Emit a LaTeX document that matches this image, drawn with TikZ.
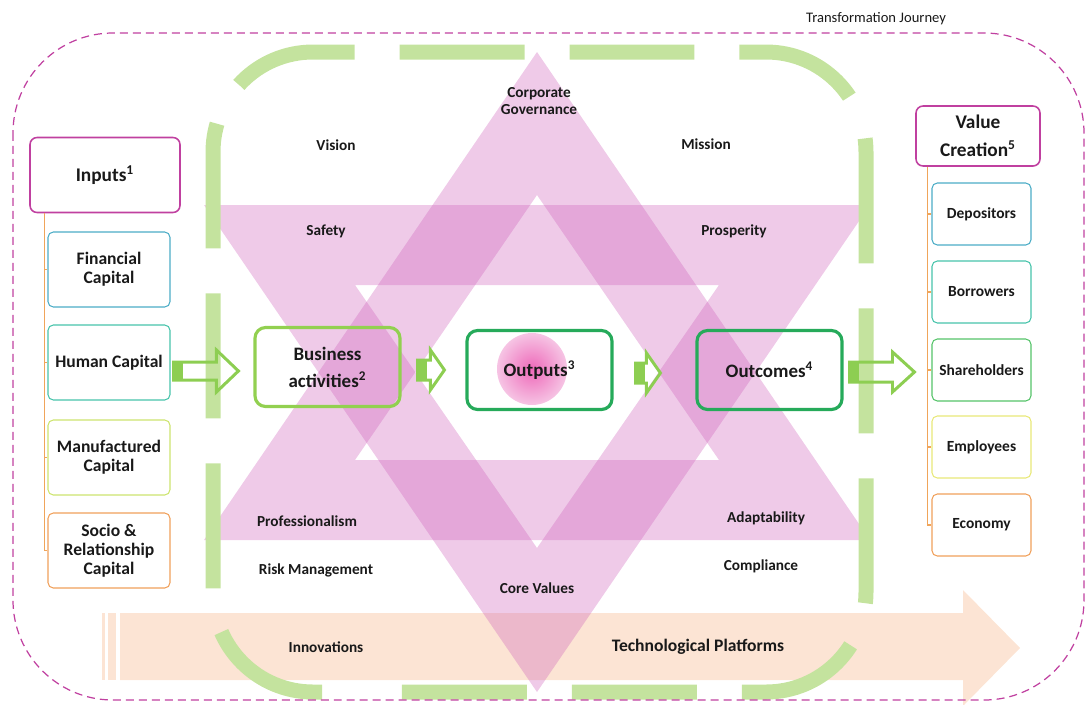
\documentclass[tikz,border=0pt]{standalone}
\usepackage{fontspec}
\setmainfont{Carlito}
\usetikzlibrary{calc}

\definecolor{journeypink}{RGB}{192,64,160}
\definecolor{ringgreen}{RGB}{196,227,158}
\definecolor{arrowgreen}{RGB}{141,206,82}
\definecolor{boxgreen}{RGB}{146,208,80}
\definecolor{darkgreen}{RGB}{38,170,90}
\definecolor{starpink}{RGB}{205,95,185}
\definecolor{platform}{RGB}{252,228,212}
\definecolor{trunkorange}{RGB}{240,165,90}
\definecolor{capblue}{RGB}{75,172,198}
\definecolor{capteal}{RGB}{70,195,170}
\definecolor{capgreen}{RGB}{85,195,105}
\definecolor{capyellow}{RGB}{205,228,110}
\definecolor{capgold}{RGB}{232,232,120}
\definecolor{caporange}{RGB}{240,160,90}
\definecolor{ink}{RGB}{25,25,25}

\tikzset{
  journey/.style={draw=journeypink, line width=0.7pt, dash pattern=on 0.16cm off 0.1cm, rounded corners=2cm},
  ring/.style={draw=ringgreen, line width=0.3cm, rounded corners=2cm, dash pattern=on 2.5cm off 0.9cm, dash phase=2.95cm},
  starband/.style={fill=starpink, fill opacity=0.33, even odd rule},
  barrow/.style={draw=arrowgreen, line width=1.7pt, line join=miter},
  capbox/.style={draw, rounded corners=3pt, line width=0.6pt, minimum width=2.44cm, minimum height=1.5cm, align=center, inner sep=1pt, text=ink, font=\fontsize{10}{10.8}\selectfont\bfseries},
  stakebox/.style={draw, rounded corners=3pt, line width=0.6pt, minimum width=1.98cm, minimum height=1.24cm, align=center, inner sep=1pt, text=ink, font=\fontsize{8.8}{10}\selectfont\bfseries},
  headbox/.style={draw=journeypink, rounded corners=4pt, line width=0.9pt, align=center, inner sep=1pt, text=ink, font=\fontsize{11}{16}\selectfont\bfseries},
  flowbox/.style={rounded corners=6pt, line width=1.8pt, minimum width=2.9cm, minimum height=1.58cm, align=center, inner sep=1pt, text=ink, font=\fontsize{10.8}{15.3}\selectfont\bfseries},
  starlabel/.style={align=center, text=ink, font=\fontsize{8.7}{10.2}\selectfont\bfseries},
  trunk/.style={draw=trunkorange, line width=0.6pt}
}

\def\blockarrow(#1)(#2)[#3:#4:#5]{%
  \fill[arrowgreen] ($(#1)+(0,-#3)$) rectangle ($(#1)+(9,#3)$);
  \draw[barrow] ($(#1)+(0,-#3)$) -- ($(#2)+(-#5,-#3)$) -- ($(#2)+(-#5,-#4)$) -- (#2)
    -- ($(#2)+(-#5,#4)$) -- ($(#2)+(-#5,#3)$) -- ($(#1)+(0,#3)$) -- cycle;}

\begin{document}
\begin{tikzpicture}[x=0.02cm, y=-0.02cm]
			\useasboundingbox (0,0) rectangle (1088,704);
			%%%%% START %%%%%
			
			% technological platform arrow
			\fill[platform] (120,613) -- (963,613) -- (963,590) -- (1020,648) -- (963,706) -- (963,680) -- (120,680) -- cycle;
			\fill[platform] (102,613) rectangle (105,680);
			\fill[platform] (108,613) rectangle (116,680);
			
			% two triangle bands
			\fill[starband] (537,52) -- (870,540) -- (204,540) -- cycle (537,195) -- (719,460) -- (355,460) -- cycle;
			\fill[starband] (204,205) -- (870,205) -- (537,692) -- cycle (355,285) -- (719,285) -- (537,548) -- cycle;
			
			% green frame
			\draw[ring] (547,52) -- (866,52) -- (866,692) -- (378,692);
			\draw[ring] (547,52) -- (213,52) -- (213,692) -- (350,692);
			
			% journey frame
			\draw[journey] (13,33) rectangle (1084,700);
			\node[text=ink, font=\fontsize{8.3}{10}\selectfont] (title) at (876,19) {Transformation Journey};
			
			% inputs
			\node[headbox, minimum width=3cm, minimum height=1.5cm] (inp) at (105,175) {Inputs\textsuperscript{1}};
			\node[capbox, draw=capblue] (fin) at (109,269.5) {Financial\\Capital};
			\node[capbox, draw=capteal] (hum) at (109,362.5) {Human Capital};
			\node[capbox, draw=capyellow] (man) at (109,457.5) {Manufactured\\Capital};
			\node[capbox, draw=caporange] (soc) at (109,550.5) {Socio \&\\Relationship\\Capital};
			\coordinate (ltop) at ($(inp.south west)+(15,0)$);
			\draw[trunk] (ltop) |- (soc.west);
			\draw[trunk] (ltop) |- (fin.west);
			\draw[trunk] (ltop) |- (hum.west);
			\draw[trunk] (ltop) |- (man.west);
			
			% value creation
			\node[headbox, minimum width=2.48cm, minimum height=1.2cm] (val) at (978,136) {Value\\Creation\textsuperscript{5}};
			\node[stakebox, draw=capblue] (dep) at (981.5,214) {Depositors};
			\node[stakebox, draw=capteal] (bor) at (981.5,292) {Borrowers};
			\node[stakebox, draw=capgreen] (sha) at (981.5,370) {Shareholders};
			\node[stakebox, draw=capgold] (emp) at (981.5,447) {Employees};
			\node[stakebox, draw=caporange] (eco) at (981.5,525) {Economy};
			\coordinate (rtop) at ($(val.south west)+(12,0)$);
			\draw[trunk] (rtop) |- (eco.west);
			\draw[trunk] (rtop) |- (dep.west);
			\draw[trunk] (rtop) |- (bor.west);
			\draw[trunk] (rtop) |- (sha.west);
			\draw[trunk] (rtop) |- (emp.west);
			
			% flow
			\shade[inner color={rgb,255:red,238;green,105;blue,185}, outer color={rgb,255:red,246;green,196;blue,228}] (532,369) ellipse (35 and 36);
			\node[flowbox, draw=boxgreen] (biz) at (327.5,367) {Business\\activities\textsuperscript{2}};
			\node[flowbox, draw=darkgreen] (out) at (539.5,370) {Outputs\textsuperscript{3}};
			\node[flowbox, draw=darkgreen] (outc) at (769.5,370) {Outcomes\textsuperscript{4}};
			
			\coordinate (t1) at ($(hum.east)+(3,8.5)$);
			\coordinate (h1) at ($(biz.west)+(-15,4)$);
			\coordinate (t2) at ($(biz.east)+(16,3)$);
			\coordinate (h2) at ($(out.west)+(-21,0)$);
			\coordinate (t3) at ($(out.east)+(22,3)$);
			\coordinate (h3) at ($(outc.west)+(-35,3)$);
			\coordinate (t4) at ($(outc.east)+(6,2)$);
			\coordinate (h4) at ($(sha.west)+(-17,2)$);
			\blockarrow(t1)(h1)[9:21:22]
			\blockarrow(t2)(h2)[10:20:14]
			\blockarrow(t3)(h3)[10:20:14]
			\blockarrow(t4)(h4)[10:20:22]
			
			% values
			\node[starlabel] (gov) at (539,101) {Corporate\\Governance};
			\node[starlabel] (vis) at (336,145) {Vision};
			\node[starlabel] (mis) at (706,144) {Mission};
			\node[starlabel] (saf) at (326,231) {Safety};
			\node[starlabel] (pro) at (734,231) {Prosperity};
			\node[starlabel] (prf) at (307,521) {Professionalism};
			\node[starlabel] (ada) at (766,518) {Adaptability};
			\node[starlabel] (risk) at (316,570) {Risk Management};
			\node[starlabel] (com) at (761,566) {Compliance};
			\node[starlabel] (core) at (537,588) {Core Values};
			\node[starlabel] (inn) at (326,647) {Innovations};
			\node[starlabel, font=\fontsize{10}{12}\selectfont\bfseries] (tech) at (698,647) {Technological Platforms};
			
			%%%%% END %%%%%
\end{tikzpicture}
\end{document}
